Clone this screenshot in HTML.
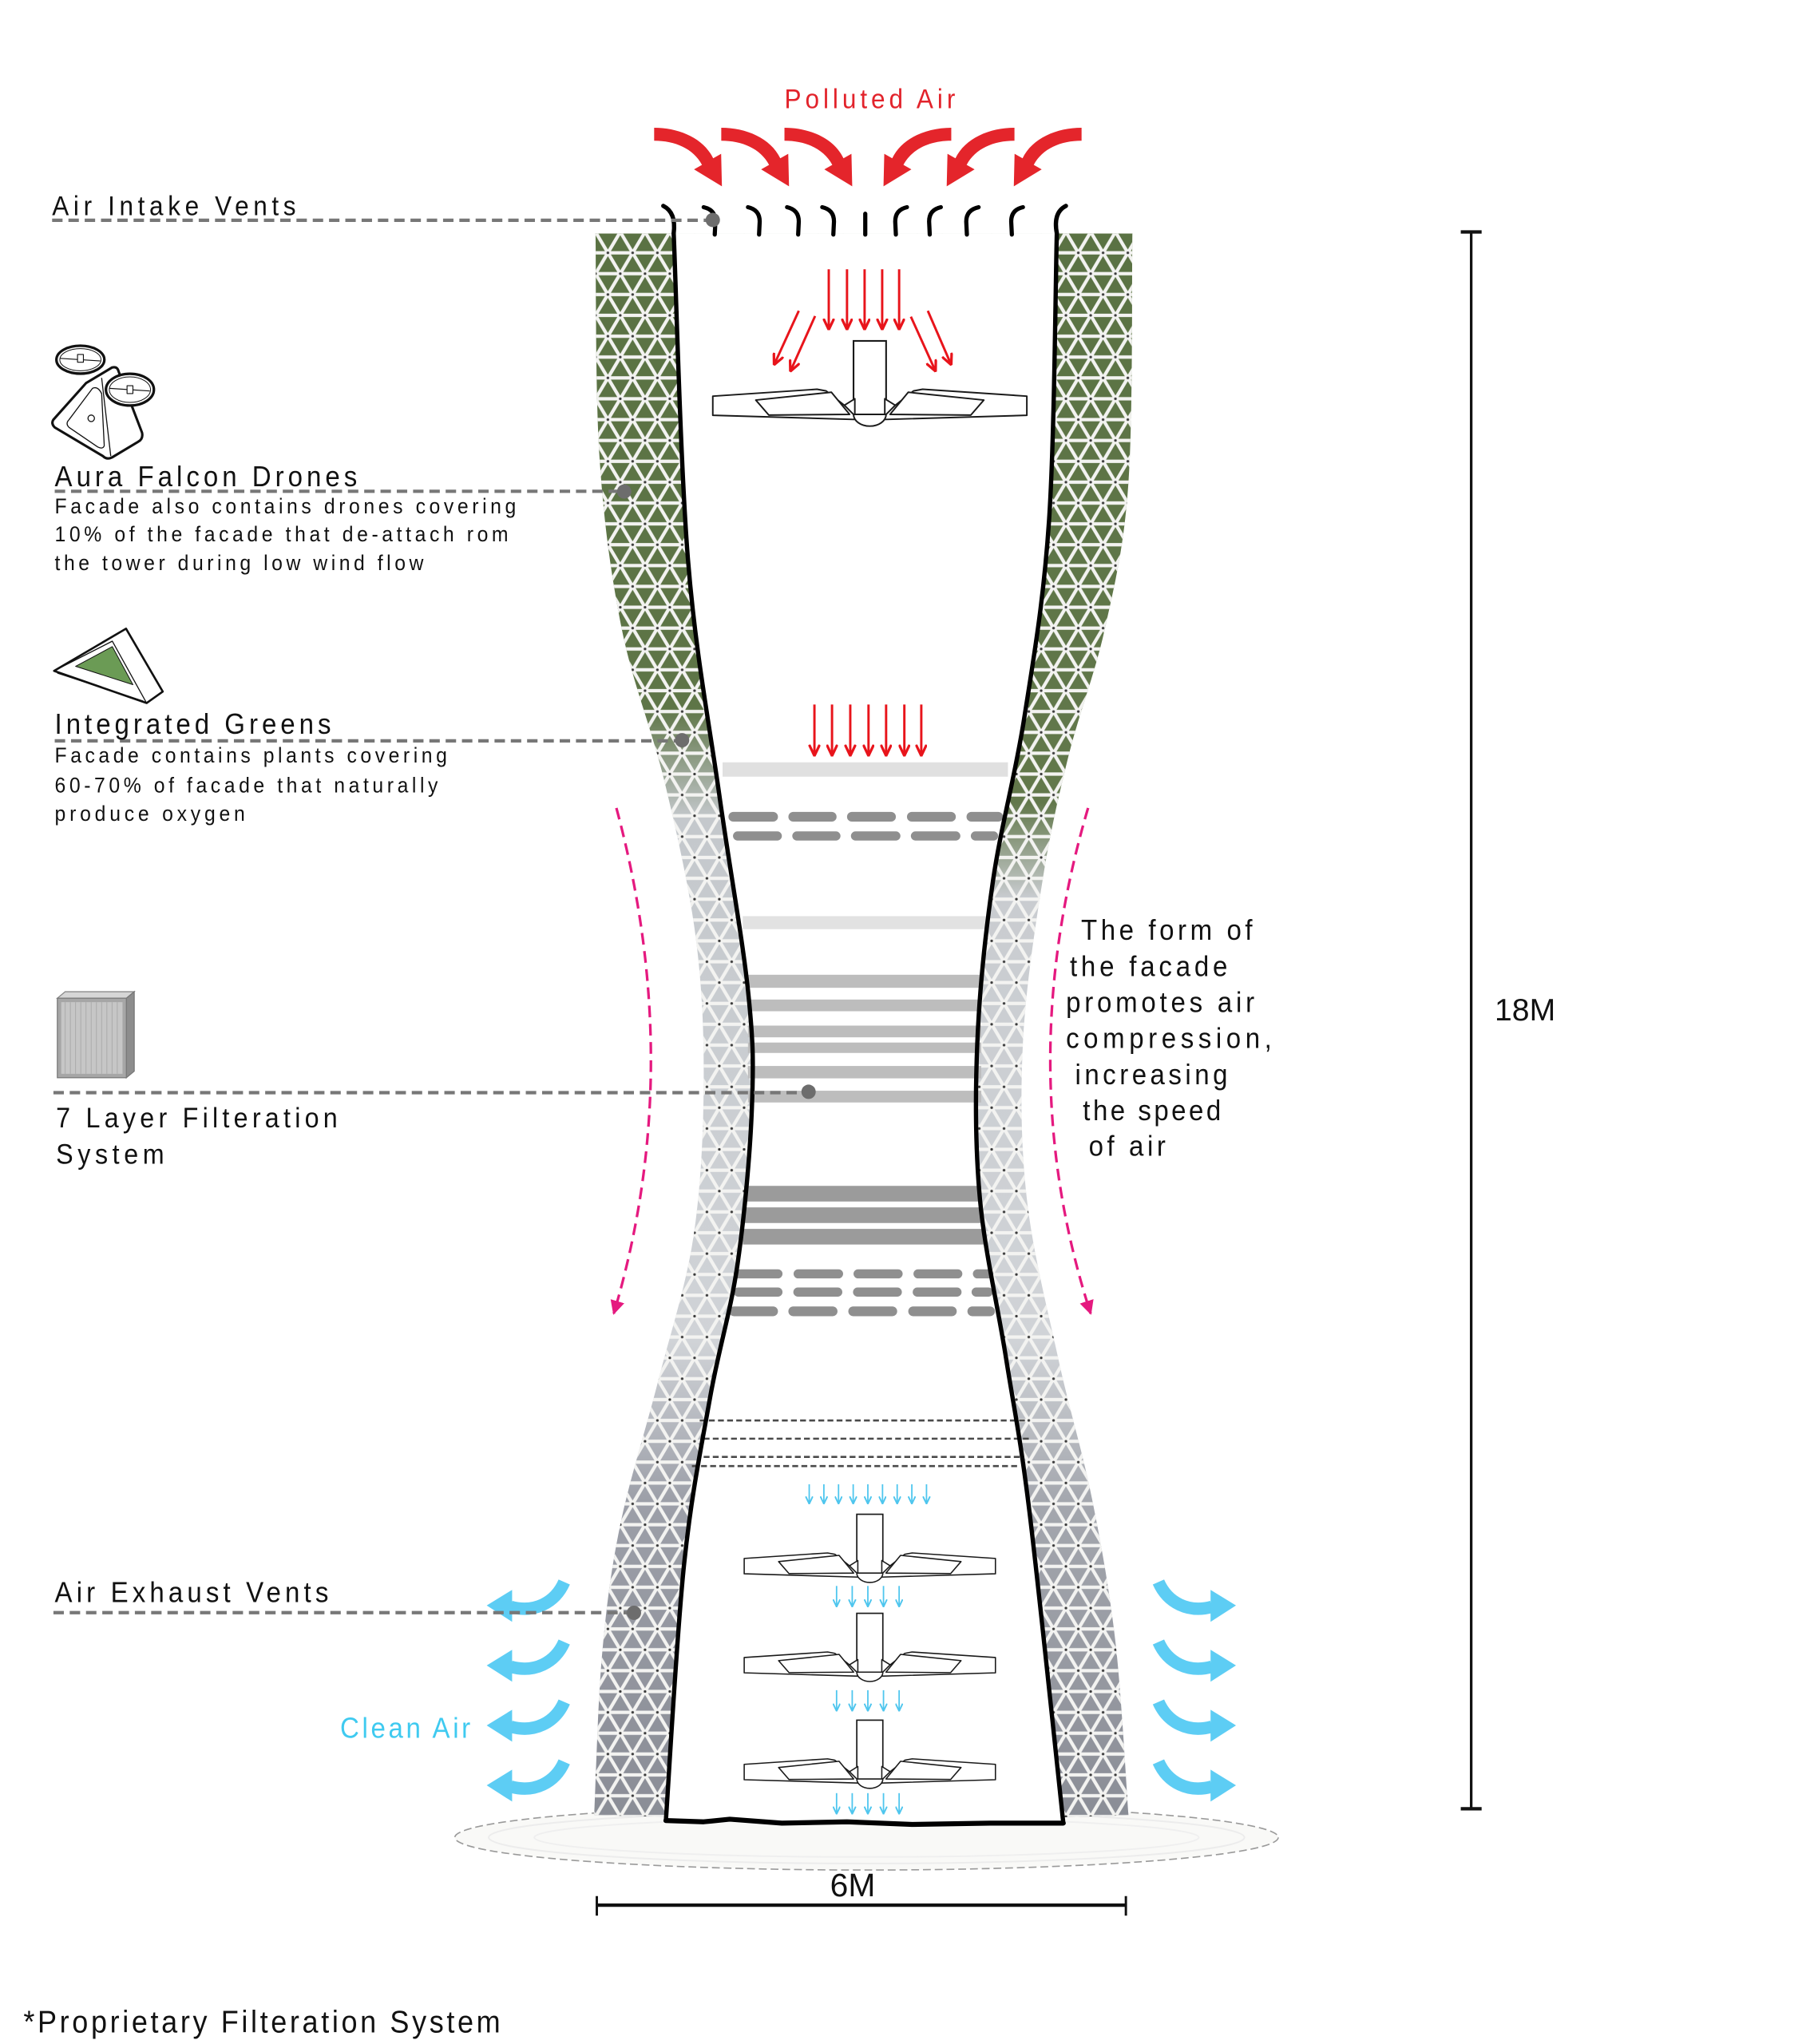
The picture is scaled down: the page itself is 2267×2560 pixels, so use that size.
<!DOCTYPE html>
<html><head><meta charset="utf-8"><style>
html,body{margin:0;padding:0;background:#fff;}
svg{display:block;}
text{font-family:"Liberation Sans",Arial,sans-serif;fill:#111;}
</style></head><body>
<svg width="2267" height="2560" viewBox="0 0 1389 1568.5" preserveAspectRatio="none" xmlns="http://www.w3.org/2000/svg">
<defs>
<linearGradient id="gL" gradientUnits="userSpaceOnUse" x1="0" y1="178" x2="0" y2="1395">
<stop offset="0" stop-color="#5a7243"/><stop offset="0.3" stop-color="#5e7547"/><stop offset="0.37" stop-color="#c4c8cc"/><stop offset="0.7" stop-color="#d0d3d7"/><stop offset="0.8" stop-color="#9c9fa8"/><stop offset="1" stop-color="#8a8d96"/>
</linearGradient>
<linearGradient id="gR" gradientUnits="userSpaceOnUse" x1="0" y1="178" x2="0" y2="1395">
<stop offset="0" stop-color="#5a7243"/><stop offset="0.36" stop-color="#62784b"/><stop offset="0.42" stop-color="#c9ccd0"/><stop offset="0.7" stop-color="#d0d3d7"/><stop offset="0.8" stop-color="#a4a7ae"/><stop offset="1" stop-color="#8a8d96"/>
</linearGradient>
<pattern id="lat" width="19" height="32" patternUnits="userSpaceOnUse" x="457" y="178">
<path d="M0,0H19M0,16H19M0,32H19M0,0L9.5,16L0,32M19,0L9.5,16L19,32" stroke="#f3f3f1" stroke-width="2.6" fill="none"/>
<g fill="#3b3b3b"><circle cx="0" cy="0" r="1"/><circle cx="19" cy="0" r="1"/><circle cx="9.5" cy="16" r="1"/><circle cx="0" cy="32" r="1"/><circle cx="19" cy="32" r="1"/></g>
</pattern>
<marker id="mr" viewBox="0 0 10 10" refX="9.5" refY="5" markerWidth="9" markerHeight="9" markerUnits="userSpaceOnUse" orient="auto"><path d="M0,0.5 L9.5,5 L0,9.5" fill="none" stroke="#e8141b" stroke-width="2.2"/></marker>
<marker id="mc" viewBox="0 0 10 10" refX="9.5" refY="5" markerWidth="6" markerHeight="6" markerUnits="userSpaceOnUse" orient="auto"><path d="M0,0.5 L9.5,5 L0,9.5" fill="none" stroke="#4fc6ee" stroke-width="2"/></marker>
<marker id="mp" viewBox="0 0 10 10" refX="9" refY="5" markerWidth="11" markerHeight="11" markerUnits="userSpaceOnUse" orient="auto"><path d="M0,0 L10,5 L0,10 Z" fill="#e5197f"/></marker>
<path id="LF" d="M457,179 C457.5,207.5 456.7,299.5 460,350 C463.3,400.5 468.7,440.3 477,482 C485.3,523.7 500.5,560.3 510,600 C519.5,639.7 529,681.2 534,720 C539,758.8 540.3,794.7 540,833 C539.7,871.3 537.8,912.2 532,950 C526.2,987.8 514.3,1023.3 505,1060 C495.7,1096.7 483.2,1135 476,1170 C468.8,1205 465.3,1232.8 462,1270 C458.7,1307.2 457,1372.5 456,1393 L665,1397 L665,179 Z"/>
<path id="RF" d="M869,179 C868.5,210.8 869.5,319.5 866,370 C862.5,420.5 855.7,447 848,482 C840.3,517 828,547.7 820,580 C812,612.3 805.8,639.3 800,676 C794.2,712.7 787,759.3 785,800 C783,840.7 783.5,879.7 788,920 C792.5,960.3 803.7,1003.7 812,1042 C820.3,1080.3 830.7,1113.7 838,1150 C845.3,1186.3 851.3,1219.5 856,1260 C860.7,1300.5 864.3,1370.8 866,1393 L665,1399 L665,179 Z"/>
<path id="WA" d="M517,179 C518.8,220.8 522.2,358.2 528,430 C533.8,501.8 544.3,555 552,610 C559.7,665 569.8,720 574,760 C578.2,800 578.3,815 577,850 C575.7,885 571.3,933 566,970 C560.7,1007 551.8,1033.7 545,1072 C538.2,1110.3 530.7,1145.8 525,1200 C519.3,1254.2 513.3,1364.2 511,1397"/>
<path id="WB" d="M811,179 C810,215.8 809.2,338 805,400 C800.8,462 793.2,505 786,551 C778.8,597 768,634.5 762,676 C756,717.5 751.7,759.3 750,800 C748.3,840.7 748.3,879.7 752,920 C755.7,960.3 765.7,1002 772,1042 C778.3,1082 782.7,1100.5 790,1160 C797.3,1219.5 811.7,1359.2 816,1399"/>
<g id="drone">
<rect x="655" y="261.6" width="25" height="57" fill="#fff" stroke="#1a1a1a" stroke-width="1.3"/>
<g id="wingL" fill="#fff" stroke="#1a1a1a" stroke-width="1.2" stroke-linejoin="round">
<path d="M547,304 L627,298.7 L634,300 L648,311 L660,322 L547,318.7 Z"/>
<path d="M580,307 L638,301 L652,318 L590,318.5 Z"/>
<path d="M648,311 L656,306 L656,319 Z"/>
</g>
<use href="#wingL" transform="translate(1335,0) scale(-1,1)"/>
<path d="M655,318 A12.5,9 0 0 0 680,318 Z" fill="#fff" stroke="#1a1a1a" stroke-width="1.2"/>
</g>
<g id="ca">
<path d="M392,1233 C410,1238 426,1230 433,1214" stroke="#5dcdf4" stroke-width="9.5" fill="none"/>
<path d="M393,1220 L373.5,1232 L393,1244.5 Z" fill="#5dcdf4"/>
</g>
<path id="ra" d="M502,98 C521,98 540,106 547.3,121.5 L553.4,118 L554,143 L532.6,130 L538.7,126.5 C532,114 518,108 502,108 Z" fill="#e4252b"/>
</defs>

<!-- base disc -->
<ellipse cx="665" cy="1410" rx="316" ry="25" fill="#f9f9f7" stroke="#9a9a9a" stroke-width="1" stroke-dasharray="6 3"/>
<ellipse cx="665" cy="1410" rx="290" ry="20" fill="none" stroke="#ececec" stroke-width="1.2"/>
<ellipse cx="665" cy="1410" rx="255" ry="15" fill="none" stroke="#efefef" stroke-width="1.2"/>

<!-- facades -->
<use href="#LF" fill="url(#gL)"/>
<use href="#LF" fill="url(#lat)"/>
<use href="#RF" fill="url(#gR)"/>
<use href="#RF" fill="url(#lat)"/>

<!-- interior white -->
<path d="M517,179 C518.8,220.8 522.2,358.2 528,430 C533.8,501.8 544.3,555 552,610 C559.7,665 569.8,720 574,760 C578.2,800 578.3,815 577,850 C575.7,885 571.3,933 566,970 C560.7,1007 551.8,1033.7 545,1072 C538.2,1110.3 530.7,1145.8 525,1200 C519.3,1254.2 513.3,1364.2 511,1397 L666,1399 L666,179 Z" fill="#fff"/>
<path d="M811,179 C810,215.8 809.2,338 805,400 C800.8,462 793.2,505 786,551 C778.8,597 768,634.5 762,676 C756,717.5 751.7,759.3 750,800 C748.3,840.7 748.3,879.7 752,920 C755.7,960.3 765.7,1002 772,1042 C778.3,1082 782.7,1100.5 790,1160 C797.3,1219.5 811.7,1359.2 816,1399 L664,1399 L664,179 Z" fill="#fff"/>

<!-- filter layers -->
<rect x="554.5" y="585" width="219" height="11" fill="#e0e0e0"/>
<g fill="#8f8f8f">
<rect x="559" y="623" width="38" height="7.5" rx="3.75"/><rect x="605" y="623" width="37" height="7.5" rx="3.75"/><rect x="650" y="623" width="37.5" height="7.5" rx="3.75"/><rect x="696" y="623" width="37.5" height="7.5" rx="3.75"/><rect x="741.7" y="623" width="28" height="7.5" rx="3.75"/>
<rect x="562.5" y="638" width="37.5" height="7" rx="3.5"/><rect x="608" y="638" width="37" height="7" rx="3.5"/><rect x="653" y="638" width="38" height="7" rx="3.5"/><rect x="699" y="638" width="38" height="7" rx="3.5"/><rect x="745" y="638" width="21" height="7" rx="3.5"/>
</g>
<rect x="570" y="703" width="186.5" height="10" fill="#e2e2e2"/>
<g fill="#bdbdbd">
<rect x="574" y="748" width="179" height="10"/><rect x="574" y="767" width="179" height="9"/><rect x="574" y="787" width="179" height="9"/><rect x="574" y="800" width="179" height="8"/><rect x="574" y="818" width="179" height="9.5"/><rect x="574" y="837" width="179" height="9"/>
</g>
<g fill="#9b9b9b">
<rect x="571" y="910" width="182" height="12"/><rect x="570" y="926.5" width="184" height="12"/><rect x="570" y="943" width="185" height="12"/>
</g>
<g fill="#8f8f8f">
<rect x="563" y="974" width="37.5" height="7" rx="3.5"/><rect x="609" y="974" width="38" height="7" rx="3.5"/><rect x="655" y="974" width="37.7" height="7" rx="3.5"/><rect x="701" y="974" width="37.5" height="7" rx="3.5"/><rect x="746.6" y="974" width="15.7" height="7" rx="3.5"/>
<rect x="563" y="988" width="37.5" height="7" rx="3.5"/><rect x="608.8" y="988" width="37.6" height="7" rx="3.5"/><rect x="654.6" y="988" width="37.5" height="7" rx="3.5"/><rect x="700.4" y="988" width="37.5" height="7" rx="3.5"/><rect x="745.6" y="988" width="16.4" height="7" rx="3.5"/>
<rect x="559.5" y="1002.5" width="37.5" height="7.5" rx="3.75"/><rect x="605" y="1002.5" width="37.7" height="7.5" rx="3.75"/><rect x="651" y="1002.5" width="37.5" height="7.5" rx="3.75"/><rect x="697" y="1002.5" width="37.2" height="7.5" rx="3.75"/><rect x="742.4" y="1002.5" width="21.1" height="7.5" rx="3.75"/>
</g>

<!-- thin dashed lines -->
<g stroke="#4a4a4a" stroke-width="1.6" stroke-dasharray="4.5 2.5" fill="none">
<line x1="537" y1="1090" x2="788" y2="1090"/>
<line x1="540" y1="1104" x2="791" y2="1104"/>
<line x1="540" y1="1118" x2="785" y2="1118"/>
<line x1="531" y1="1125" x2="783" y2="1125"/>
</g>

<!-- walls -->
<g stroke="#000" stroke-width="3.3" fill="none" stroke-linejoin="round" stroke-linecap="round">
<path d="M509,158 Q519,163 517,179"/>
<use href="#WA"/>
<path d="M818,158 Q808,163 811,179"/>
<use href="#WB"/>
<path d="M511,1397 L540,1398 L560,1396 L600,1399 L650,1398 L700,1400 L760,1399 L816,1399" stroke-width="3.8"/>
</g>

<!-- intake vents -->
<g stroke="#000" stroke-width="3.2" fill="none" stroke-linecap="round">
<path d="M540,159 Q549,161 549,170 L548.5,180"/>
<path d="M574,159 Q583,161 583,170 L582.5,180"/>
<path d="M604,159 Q613,161 613,170 L612.5,180"/>
<path d="M631,159 Q640,161 640,170 L639.5,180"/>
<path d="M664,164 L664,180"/>
<path d="M696,159 Q687,161 687,170 L687.5,180"/>
<path d="M722,159 Q713,161 713,170 L713.5,180"/>
<path d="M751,159 Q741.5,161 741.5,170 L742,180"/>
<path d="M785,159 Q776,161 776,170 L776.5,180"/>
</g>

<!-- big red arrows -->
<use href="#ra"/>
<use href="#ra" transform="translate(51.5,0)"/>
<use href="#ra" transform="translate(100,0)"/>
<g transform="translate(1332,0) scale(-1,1)">
<use href="#ra"/>
<use href="#ra" transform="translate(51.5,0)"/>
<use href="#ra" transform="translate(100,0)"/>
</g>

<!-- top drone and red arrows -->
<use href="#drone"/>
<g stroke="#e8141b" stroke-width="1.8" fill="none" marker-end="url(#mr)">
<line x1="636" y1="206.6" x2="636" y2="253"/>
<line x1="650" y1="206.6" x2="650" y2="253"/>
<line x1="663.5" y1="206.6" x2="663.5" y2="253"/>
<line x1="677" y1="206.6" x2="677" y2="253"/>
<line x1="690" y1="206.6" x2="690" y2="253"/>
<line x1="613" y1="238.5" x2="594" y2="280"/>
<line x1="625.5" y1="242.5" x2="606.5" y2="285"/>
<line x1="699" y1="243" x2="718" y2="285"/>
<line x1="712" y1="238.5" x2="730" y2="280"/>
<line x1="625" y1="540.6" x2="625" y2="580"/>
<line x1="638.5" y1="540.6" x2="638.5" y2="580"/>
<line x1="652.5" y1="540.6" x2="652.5" y2="580"/>
<line x1="666.5" y1="540.6" x2="666.5" y2="580"/>
<line x1="680" y1="540.6" x2="680" y2="580"/>
<line x1="694" y1="540.6" x2="694" y2="580"/>
<line x1="707" y1="540.6" x2="707" y2="580"/>
</g>

<!-- bottom drones -->
<use href="#drone" transform="translate(667.5,1162) scale(0.8) translate(-667.5,-261.6)"/>
<use href="#drone" transform="translate(667.5,1238) scale(0.8) translate(-667.5,-261.6)"/>
<use href="#drone" transform="translate(667.5,1320) scale(0.8) translate(-667.5,-261.6)"/>

<!-- cyan thin arrows -->
<g stroke="#4fc6ee" stroke-width="1.1" fill="none" marker-end="url(#mc)">
<line x1="621" y1="1139" x2="621" y2="1154"/><line x1="632.25" y1="1139" x2="632.25" y2="1154"/><line x1="643.5" y1="1139" x2="643.5" y2="1154"/><line x1="654.75" y1="1139" x2="654.75" y2="1154"/><line x1="666" y1="1139" x2="666" y2="1154"/><line x1="677.25" y1="1139" x2="677.25" y2="1154"/><line x1="688.5" y1="1139" x2="688.5" y2="1154"/><line x1="699.75" y1="1139" x2="699.75" y2="1154"/><line x1="711" y1="1139" x2="711" y2="1154"/>
<line x1="642" y1="1217" x2="642" y2="1233"/><line x1="654" y1="1217" x2="654" y2="1233"/><line x1="666" y1="1217" x2="666" y2="1233"/><line x1="678" y1="1217" x2="678" y2="1233"/><line x1="690" y1="1217" x2="690" y2="1233"/>
<line x1="642" y1="1297" x2="642" y2="1313"/><line x1="654" y1="1297" x2="654" y2="1313"/><line x1="666" y1="1297" x2="666" y2="1313"/><line x1="678" y1="1297" x2="678" y2="1313"/><line x1="690" y1="1297" x2="690" y2="1313"/>
<line x1="642" y1="1376" x2="642" y2="1392"/><line x1="654" y1="1376" x2="654" y2="1392"/><line x1="666" y1="1376" x2="666" y2="1392"/><line x1="678" y1="1376" x2="678" y2="1392"/><line x1="690" y1="1376" x2="690" y2="1392"/>
</g>

<!-- cyan exhaust arrows -->
<use href="#ca"/>
<use href="#ca" transform="translate(0,46)"/>
<use href="#ca" transform="translate(0,92)"/>
<use href="#ca" transform="translate(0,138)"/>
<g transform="translate(1322,0) scale(-1,1)">
<use href="#ca"/>
<use href="#ca" transform="translate(0,46)"/>
<use href="#ca" transform="translate(0,92)"/>
<use href="#ca" transform="translate(0,138)"/>
</g>

<!-- pink dashed arrows -->
<g stroke="#e5197f" stroke-width="2" fill="none" stroke-dasharray="9 5">
<path d="M473,620 Q527,820 471,1008" marker-end="url(#mp)"/>
<path d="M835,620 Q776,820 837,1008" marker-end="url(#mp)"/>
</g>

<!-- leader lines -->
<g stroke="#777" stroke-width="2.6" stroke-dasharray="8 4.5" fill="none">
<line x1="40" y1="169" x2="545" y2="169"/>
<line x1="42" y1="377" x2="477" y2="377"/>
<line x1="42" y1="568.5" x2="521" y2="568.5"/>
<line x1="41" y1="838.5" x2="618" y2="838.5"/>
<line x1="41" y1="1237.5" x2="485" y2="1237.5"/>
</g>
<g fill="#6d6d6d">
<circle cx="547" cy="168.8" r="5.5"/>
<circle cx="479" cy="377.2" r="5.5"/>
<circle cx="523.4" cy="568" r="5.5"/>
<circle cx="620.5" cy="837.8" r="5.5"/>
<circle cx="486.5" cy="1237.6" r="5.5"/>
</g>

<!-- dimensions -->
<g stroke="#111" fill="none">
<line x1="1129" y1="178" x2="1129" y2="1388" stroke-width="2"/>
<line x1="1121" y1="178" x2="1137" y2="178" stroke-width="2.6"/>
<line x1="1121" y1="1388" x2="1137" y2="1388" stroke-width="2.6"/>
<line x1="458" y1="1462" x2="864" y2="1462" stroke-width="2.6"/>
<line x1="458" y1="1455" x2="458" y2="1470" stroke-width="1.8"/>
<line x1="864" y1="1455" x2="864" y2="1470" stroke-width="1.8"/>
</g>

<!-- left icons -->
<g stroke="#111" fill="#fff" stroke-linejoin="round">
<path d="M66,294 L86,282 Q90,281 91,285 L109,332 Q110,337 106,339 L86,351 Q82,353 79,350 L42,328 Q39,325 41,322 Z" stroke-width="1.9"/>
<path d="M78,290 L85,350" stroke-width="0.8" fill="none"/>
<path d="M71,298 Q75,296 78,302 L80,342 Q79,345 75,343 L53,328 Q50,325 53,322 Z" stroke-width="0.8" fill="none"/>
<circle cx="70" cy="321" r="2.5" stroke-width="0.8"/>
<ellipse cx="61.7" cy="276" rx="18.4" ry="10.7" stroke-width="2"/>
<ellipse cx="61.7" cy="276" rx="15.8" ry="8.5" stroke-width="0.6" fill="none"/>
<path d="M46,275 L77,277" stroke-width="0.7"/>
<rect x="59.5" y="272" width="4.5" height="6" stroke-width="0.7"/>
<ellipse cx="99.7" cy="299" rx="18.4" ry="12.2" stroke-width="2"/>
<ellipse cx="99.7" cy="299" rx="15.8" ry="9.8" stroke-width="0.6" fill="none"/>
<path d="M84,298 L115,300" stroke-width="0.7"/>
<rect x="97.5" y="296" width="4.5" height="6" stroke-width="0.7"/>
</g>
<g stroke="#111" stroke-linejoin="round">
<path d="M41.5,514.8 L96.7,482.4 L124.9,530.7 L112.5,539.5 Z" fill="#fff" stroke-width="1.6"/>
<path d="M41.5,514.8 L86.2,492 L112.5,539.5 M44,516.5 L110,538" fill="none" stroke-width="0.8"/>
<path d="M58,511.3 L86.2,496.2 L102,525.4 Z" fill="#6b9b55" stroke-width="0.6"/>
</g>
<g>
<path d="M44,766 L50,761 L103,761 L97,766 Z" fill="#d6d6d6" stroke="#8a8a8a" stroke-width="0.8"/>
<path d="M97,766 L103,761 L103,822 L97,827 Z" fill="#8d8d8d" stroke="#777" stroke-width="0.8"/>
<rect x="44" y="766" width="53" height="61" fill="#a6a6a6" stroke="#7a7a7a" stroke-width="0.8"/>
<rect x="47" y="769" width="47" height="55" fill="#c6c6c6"/>
<g stroke="#aaa" stroke-width="0.6">
<line x1="50" y1="769" x2="50" y2="824"/><line x1="54" y1="769" x2="54" y2="824"/><line x1="58" y1="769" x2="58" y2="824"/><line x1="62" y1="769" x2="62" y2="824"/><line x1="66" y1="769" x2="66" y2="824"/><line x1="70" y1="769" x2="70" y2="824"/><line x1="74" y1="769" x2="74" y2="824"/><line x1="78" y1="769" x2="78" y2="824"/><line x1="82" y1="769" x2="82" y2="824"/><line x1="86" y1="769" x2="86" y2="824"/><line x1="90" y1="769" x2="90" y2="824"/>
</g>
</g>

<!-- text -->
<text transform="translate(602,83) scale(0.92,1)" font-size="21" textLength="142.4" lengthAdjust="spacing" style="fill:#e2232b">Polluted Air</text>
<text transform="translate(40,165) scale(0.92,1)" font-size="21" textLength="203.3" lengthAdjust="spacing">Air Intake Vents</text>
<text transform="translate(42,373) scale(0.92,1)" font-size="22" textLength="252.2" lengthAdjust="spacing">Aura Falcon Drones</text>
<text transform="translate(42,394) scale(0.92,1)" font-size="16.5" textLength="384.8" lengthAdjust="spacing">Facade also contains drones covering</text>
<text transform="translate(42,415.5) scale(0.92,1)" font-size="16.5" textLength="378.3" lengthAdjust="spacing">10% of the facade that de-attach rom</text>
<text transform="translate(42,437.6) scale(0.92,1)" font-size="16.5" textLength="307.6" lengthAdjust="spacing">the tower during low wind flow</text>
<text transform="translate(42,563) scale(0.92,1)" font-size="22" textLength="230.4" lengthAdjust="spacing">Integrated Greens</text>
<text transform="translate(42,585) scale(0.92,1)" font-size="16.5" textLength="327.2" lengthAdjust="spacing">Facade contains plants covering</text>
<text transform="translate(42,608) scale(0.92,1)" font-size="16.5" textLength="319.6" lengthAdjust="spacing">60-70% of facade that naturally</text>
<text transform="translate(42,630) scale(0.92,1)" font-size="16.5" textLength="158.7" lengthAdjust="spacing">produce oxygen</text>
<text transform="translate(43,865) scale(0.92,1)" font-size="21.5" textLength="234.8" lengthAdjust="spacing">7 Layer Filteration</text>
<text transform="translate(43,893) scale(0.92,1)" font-size="21.5" textLength="90.2" lengthAdjust="spacing">System</text>
<text transform="translate(42,1229.5) scale(0.92,1)" font-size="22" textLength="228.3" lengthAdjust="spacing">Air Exhaust Vents</text>
<text transform="translate(261,1333.5) scale(0.92,1)" font-size="22" textLength="108.7" lengthAdjust="spacing" style="fill:#3fcaf0">Clean Air</text>
<text transform="translate(829.6,721) scale(0.92,1)" font-size="22" textLength="142.9" lengthAdjust="spacing">The form of</text>
<text transform="translate(821,749) scale(0.92,1)" font-size="22" textLength="131.5" lengthAdjust="spacing">the facade</text>
<text transform="translate(818,776.5) scale(0.92,1)" font-size="22" textLength="157.2" lengthAdjust="spacing">promotes air</text>
<text transform="translate(818,804.3) scale(0.92,1)" font-size="22" textLength="171.7" lengthAdjust="spacing">compression,</text>
<text transform="translate(825,832) scale(0.92,1)" font-size="22" textLength="127.2" lengthAdjust="spacing">increasing</text>
<text transform="translate(831,859.7) scale(0.92,1)" font-size="22" textLength="115.2" lengthAdjust="spacing">the speed</text>
<text transform="translate(835.5,887) scale(0.92,1)" font-size="22" textLength="64.1" lengthAdjust="spacing">of air</text>
<text x="1147" y="783" font-size="24">18M</text>
<text x="637" y="1455" font-size="25">6M</text>
<text transform="translate(18,1559.5) scale(0.92,1)" font-size="24" textLength="397.8" lengthAdjust="spacing">*Proprietary Filteration System</text>
</svg>
</body></html>
